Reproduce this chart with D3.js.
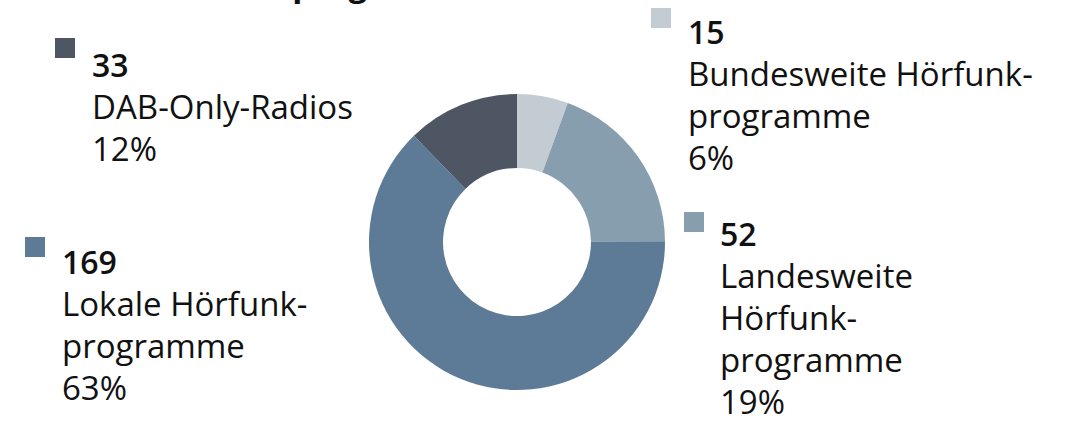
<!DOCTYPE html>
<html>
<head>
<meta charset="utf-8">
<script src="https://cdn.jsdelivr.net/npm/d3@7"></script>
<style>
  body { margin: 0; background: #fff; }
  text { font-family: "Open Sans", "Noto Sans", sans-serif; fill: #111; }
</style>
</head>
<body>
<script>
// data
const categories = ["Bundesweite Hörfunkprogramme", "Landesweite Hörfunkprogramme", "Lokale Hörfunkprogramme", "DAB-Only-Radios"];
const values = [15, 52, 169, 33];
const percents = ["6%", "19%", "63%", "12%"];
const labelLines = [
  ["Bundesweite Hörfunk-", "programme"],
  ["Landesweite", "Hörfunk-", "programme"],
  ["Lokale Hörfunk-", "programme"],
  ["DAB-Only-Radios"]
];
const colors = ["#c3ccd2", "#879eaf", "#5d7b97", "#4f5663"];

var w = 1073;
var h = 423;

var svg = d3.select("body").append("svg").attr("width", w).attr("height", h);

// title, cut off by the top edge as in the original
svg.append("text")
  .attr("x", 56)
  .attr("y", -4)
  .style("font-size", "33px")
  .style("font-weight", "700")
  .text("DAB+-Hörfunkprogramme");

// donut
var cx = 517, cy = 242;
var outerR = 148, innerR = 74;

var pie = d3.pie().sort(null).value(function (d) { return d; });
var arc = d3.arc().innerRadius(innerR).outerRadius(outerR);

var g = svg.append("g").attr("transform", "translate(" + cx + "," + cy + ")");

g.selectAll("path")
  .data(pie(values))
  .enter()
  .append("path")
  .attr("d", arc)
  .attr("fill", function (d, i) { return colors[i]; });

// legend blocks (square x/y, text x, first baseline)
var legendPos = [
  { sx: 651, sy: 8, tx: 688, ty: 44 },
  { sx: 684, sy: 212, tx: 720, ty: 246 },
  { sx: 25, sy: 237, tx: 62, ty: 274 },
  { sx: 55, sy: 38, tx: 92, ty: 77 }
];

var lineH = 42;

categories.forEach(function (c, i) {
  var p = legendPos[i];
  var lg = svg.append("g").attr("class", "legend");
  lg.append("rect")
    .attr("x", p.sx).attr("y", p.sy)
    .attr("width", 20).attr("height", 20)
    .attr("fill", colors[i]);
  lg.append("text")
    .attr("x", p.tx).attr("y", p.ty)
    .style("font-size", "32px")
    .style("font-weight", "600")
    .text(values[i]);
  var lines = labelLines[i].concat([percents[i]]);
  lines.forEach(function (l, j) {
    lg.append("text")
      .attr("x", p.tx)
      .attr("y", p.ty + 42 + j * lineH)
      .style("font-size", "33px")
      .style("font-weight", "400")
      .text(l);
  });
});
</script>
</body>
</html>
